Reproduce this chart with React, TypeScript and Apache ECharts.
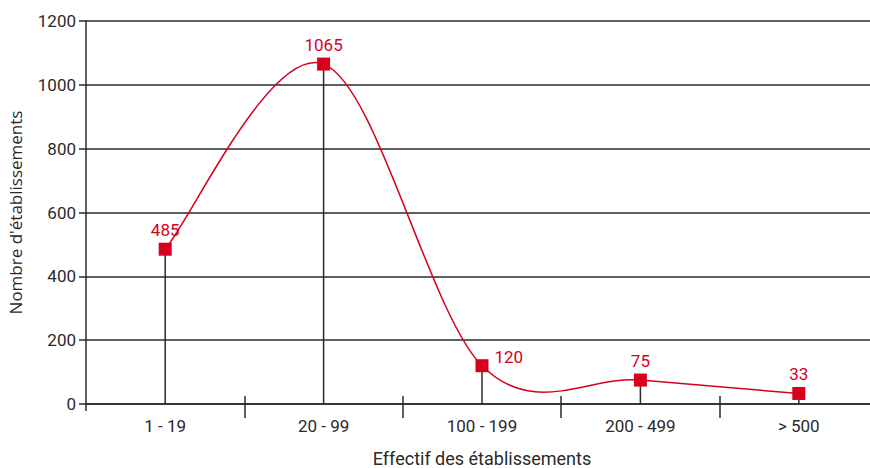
import React, { useEffect, useRef } from "react";
import * as echarts from "echarts";

const categories = ["1 - 19", "20 - 99", "100 - 199", "200 - 499", "> 500"];
const values = [485, 1065, 120, 75, 33];
const labelPositions = ["top", "top", "right", "top", "top"];
const yTicks = { min: 0, max: 1200, interval: 200 };

const RED = "#d6001c";
const INK = "#2a2a2a";
const FONT = "Roboto, 'DejaVu Sans', sans-serif";
const FONT_Y_NAME = "'Open Sans', 'Noto Sans', sans-serif";

export default function App() {
  const ref = useRef<HTMLDivElement>(null);
  useEffect(() => {
    if (!ref.current) return;
    const chart = echarts.init(ref.current, undefined, { renderer: "svg" });
    const renderCurve = (params: any, api: any) => {
      if (params.dataIndex !== 0) return null;
      const pts = values.map((v, i) => api.coord([i, v]));
      const n = pts.length;
      let d = `M${pts[0][0]},${pts[0][1]}`;
      for (let i = 0; i < n - 1; i++) {
        const p0 = pts[Math.max(i - 1, 0)];
        const p1 = pts[i];
        const p2 = pts[i + 1];
        const p3 = pts[Math.min(i + 2, n - 1)];
        const c1x = p1[0] + (p2[0] - p0[0]) / 6;
        const c1y = p1[1] + (p2[1] - p0[1]) / 6;
        const c2x = p2[0] - (p3[0] - p1[0]) / 6;
        const c2y = p2[1] - (p3[1] - p1[1]) / 6;
        d += ` C${c1x},${c1y} ${c2x},${c2y} ${p2[0]},${p2[1]}`;
      }
      return {
        type: "path",
        shape: { pathData: d },
        style: { stroke: RED, fill: "none", lineWidth: 1.5 },
        silent: true,
      };
    };
    chart.setOption({
      animation: false,
      textStyle: { fontFamily: FONT },
      grid: {
        left: 86,
        right: -8,
        top: 21,
        bottom: 64,
        containLabel: false,
        outerBoundsMode: "none",
      },
      xAxis: [
        {
          type: "category",
          data: categories,
          boundaryGap: true,
          name: "Effectif des établissements",
          nameLocation: "middle",
          nameGap: 45,
          nameTextStyle: { color: INK, fontSize: 18, fontFamily: FONT },
          axisLine: { lineStyle: { color: INK, width: 1.5 } },
          axisTick: {
            show: true,
            length: 14,
            interval: (i: number) => i !== 0,
            lineStyle: { color: INK, width: 1.5 },
          },
          axisLabel: { color: INK, fontSize: 17, margin: 13, fontFamily: FONT },
        },
        {
          type: "category",
          data: categories,
          position: "bottom",
          boundaryGap: true,
          axisLine: { show: false },
          axisTick: {
            show: true,
            inside: true,
            length: 8,
            interval: (i: number) => i !== 0,
            lineStyle: { color: INK, width: 1.5 },
          },
          axisLabel: { show: false },
        },
        {
          type: "category",
          data: categories,
          position: "bottom",
          boundaryGap: true,
          axisLine: { show: false },
          axisTick: {
            show: true,
            length: 7,
            interval: (i: number) => i === 0,
            lineStyle: { color: INK, width: 1.5 },
          },
          axisLabel: { show: false },
        },
      ],
      yAxis: {
        type: "value",
        min: yTicks.min,
        max: yTicks.max,
        interval: yTicks.interval,
        name: "Nombre d'établissements",
        nameLocation: "middle",
        nameGap: 62,
        nameRotate: 90,
        nameTextStyle: { color: INK, fontSize: 17, fontFamily: FONT_Y_NAME },
        axisLine: { show: true, lineStyle: { color: INK, width: 1.5 } },
        axisTick: { show: true, length: 7, lineStyle: { color: INK, width: 1.5 } },
        axisLabel: {
          color: INK,
          fontSize: 17,
          margin: 10,
          fontFamily: FONT,
          formatter: (v: number) => String(v),
        },
        splitLine: { show: true, lineStyle: { color: INK, width: 1.5 } },
      },
      series: [
        {
          type: "bar",
          data: values,
          barWidth: 1.5,
          itemStyle: { color: INK },
          silent: true,
          z: 1,
        },
        {
          type: "custom",
          data: values.map((v, i) => [i, v]),
          renderItem: renderCurve,
          z: 2,
        },
        {
          type: "scatter",
          data: values.map((v, i) => ({
            value: [i, v],
            label:
              labelPositions[i] === "right"
                ? { position: "right", offset: [0, -9], distance: 6 }
                : { position: "top" },
          })),
          symbol: "rect",
          symbolSize: 13,
          itemStyle: { color: RED, opacity: 1 },
          label: {
            show: true,
            color: RED,
            fontSize: 17,
            fontFamily: FONT,
            distance: 4,
            formatter: (p: any) => String(p.value[1]),
          },
          z: 3,
        },
      ],
    });
    return () => chart.dispose();
  }, []);
  return (
    <div
      ref={ref}
      style={{ position: "absolute", left: 0, top: 0, width: 870, height: 468 }}
    />
  );
}
